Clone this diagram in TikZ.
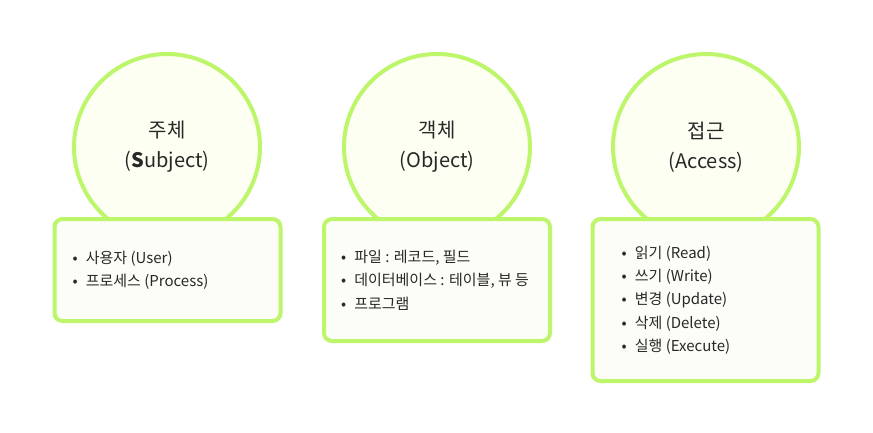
\documentclass[tikz,border=0pt]{standalone}
\usepackage{fontspec}
\setmainfont{Noto Sans CJK KR}
\usepackage{tikz}
\usetikzlibrary{positioning}
\usepackage{xcolor}
\definecolor{lime}{RGB}{189,245,107}
\definecolor{circfill}{RGB}{253,255,242}
\definecolor{boxfill}{RGB}{252,253,247}
\definecolor{ink}{RGB}{40,40,40}

\tikzset{
  concept/.style={circle, draw=lime, fill=circfill, line width=4pt, minimum size=186pt,
    inner sep=0pt, align=center, text=ink, font=\fontsize{20}{30}\selectfont},
  listbox/.style={rectangle, draw=lime, fill=boxfill, line width=4pt, rounded corners=8pt,
    minimum width=226pt, inner sep=0pt},
  itemlist/.style={anchor=west, inner sep=0pt, align=left, text=ink,
    font=\fontsize{15}{23.3}\selectfont}
}
\newcommand{\itm}[1]{\textbullet\hspace{8pt}#1}

\begin{document}
\begin{tikzpicture}[x=1pt, y=-1pt]
  \useasboundingbox (0,0) rectangle (873,432);

  % Circles
  \node[concept] (subj) at (167,147) {주체\\(\textbf{S}ubject)};
  \node[concept] (obj)  at (437,147) {객체\\(Object)};
  \node[concept] (acc)  at (706,147) {접근\\(Access)};

  % Boxes
  \node[listbox, minimum height=102pt] (subjbox) at (167.5,270) {};
  \node[listbox, minimum height=122pt] (objbox)  at (437,280) {};
  \node[listbox, minimum height=162pt] (accbox)  at (705.5,300) {};

  % Items
  \node[itemlist, right=20pt of subjbox.west] (subjlist)
    {\itm{사용자 (User)}\\\itm{프로세스 (Process)}};
  \node[itemlist, right=19pt of objbox.west] (objlist)
    {\itm{파일 : 레코드, 필드}\\\itm{데이터베이스 : 테이블, 뷰 등}\\\itm{프로그램}};
  \node[itemlist, right=31pt of accbox.west] (acclist)
    {\itm{읽기 (Read)}\\\itm{쓰기 (Write)}\\\itm{변경 (Update)}\\\itm{삭제 (Delete)}\\\itm{실행 (Execute)}};
\end{tikzpicture}
\end{document}
